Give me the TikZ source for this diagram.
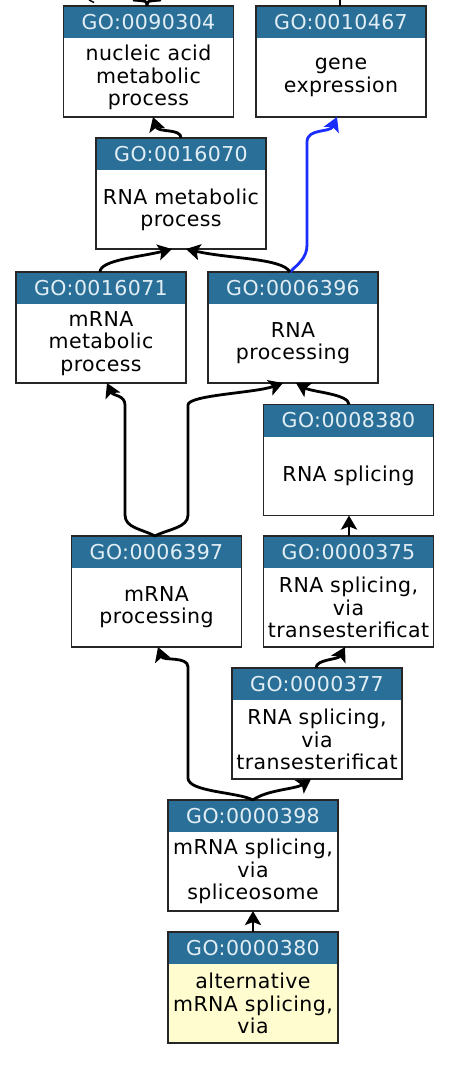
\documentclass[tikz,border=0pt]{standalone}
\usepackage{fontspec}
\setmainfont{DejaVu Sans}
\newfontfamily\gofont[LetterSpace=2]{DejaVu Sans}
\usetikzlibrary{arrows.meta}
\definecolor{hdr}{RGB}{42,111,151}
\definecolor{hdrtxt}{RGB}{226,238,245}
\definecolor{leaf}{RGB}{255,253,208}
\definecolor{isablue}{RGB}{25,45,255}
\tikzset{
  gobox/.style={draw=none, minimum width=170pt, minimum height=111pt, inner sep=0pt, outer sep=0pt},
  boxline/.style={draw=black!85, line width=1.3pt},
  hdrtext/.style={text=hdrtxt, font=\gofont\fontsize{20.5}{22.3}\selectfont, inner sep=0pt},
  bodytext/.style={text=black, font=\gofont\fontsize{20.5}{22.3}\selectfont, align=center, inner sep=0pt},
  edge/.style={line width=2.8pt, draw=black, -{Stealth[length=14pt,width=16pt,inset=3pt]}},
  blueedge/.style={edge, draw=isablue, -{Stealth[length=14pt,width=16pt,inset=3pt,fill=isablue]}},
  tail/.style={line width=2.8pt, draw=black},
}
\newcommand\gonode[6]{%
  \node[gobox, fill=#6] (#1) at (#2,#3) {};
  \fill[hdr] (#1.north west) rectangle ([yshift=-32pt]#1.north east);
  \node[hdrtext] (#1h) at ([yshift=-16pt]#1.north) {#4};
  \node[bodytext] (#1b) at ([yshift=-16pt]#1.center) {#5};
  \draw[boxline] (#1.north west) rectangle (#1.south east);
}
\begin{document}
\begin{tikzpicture}[x=1pt,y=-1pt]
\useasboundingbox (0,0) rectangle (464,1070);
\fill[white] (0,0) rectangle (464,1070);

\gonode{n90304}{148.5}{61.5}{GO:0090304}{nucleic acid\\metabolic\\process}{white}
\gonode{n10467}{341}{61.5}{GO:0010467}{gene\\expression}{white}
\gonode{n16070}{181}{193.5}{GO:0016070}{RNA metabolic\\process}{white}
\gonode{n16071}{101}{327.5}{GO:0016071}{mRNA\\metabolic\\process}{white}
\gonode{n6396}{293}{327.5}{GO:0006396}{RNA\\processing}{white}
\gonode{n8380}{348.5}{460}{GO:0008380}{RNA splicing}{white}
\gonode{n6397}{156.5}{591.5}{GO:0006397}{mRNA\\processing}{white}
\gonode{n375}{348.5}{591.5}{GO:0000375}{RNA splicing,\\via\\transesterificat}{white}
\gonode{n377}{317}{723.5}{GO:0000377}{RNA splicing,\\via\\transesterificat}{white}
\gonode{n398}{253}{855.5}{GO:0000398}{mRNA splicing,\\via\\spliceosome}{white}
\gonode{n380}{253}{987.5}{GO:0000380}{alternative\\mRNA splicing,\\via}{leaf}

% stubs leaving the top edge
\coordinate (topL) at (133,0);
\coordinate (topR) at (161,0);
\coordinate (topG) at (340,0);
\coordinate (stubA) at (89,0);
\coordinate (stubB) at (94,2.5);
\draw[tail] ([xshift=-1.5pt]n90304.north) .. controls (147,1) .. (topL);
\draw[tail] ([xshift=-1.5pt]n90304.north) .. controls (147,1) .. (topR);
\draw[tail] ([xshift=-1pt]n10467.north) -- (topG);
\draw[line width=1.5pt] (stubA) -- (stubB);

% edges
\draw[edge] ([xshift=0pt]n16070.north) .. controls (181,128) and (158,133) .. ([xshift=4.5pt]n90304.south);
\draw[blueedge] ([xshift=-3pt]n6396.north) .. controls (298,264) and (307,258) .. (307,245) -- (307,142) .. controls (307,128) and (330,133) .. ([xshift=-4pt]n10467.south);
\draw[edge] ([xshift=-1pt]n16071.north) .. controls (100,260) and (140,257) .. ([xshift=-9pt]n16070.south);
\draw[edge] ([xshift=-3pt]n6396.north) .. controls (282,258) and (230,259) .. ([xshift=5pt]n16070.south);
\draw[edge] ([xshift=-1.5pt]n6397.north) .. controls (142,529) and (125,528) .. (125,515) -- (125,405) .. controls (125,395) and (113,396) .. ([xshift=6pt]n16071.south);
\draw[edge] ([xshift=-1.5pt]n6397.north) .. controls (168,529) and (188,528) .. (188,515) -- (188,405) .. controls (188,395) and (255,393) .. ([xshift=-10pt]n6396.south);
\draw[edge] ([xshift=0.5pt]n8380.north) .. controls (349,394) and (312,392) .. ([xshift=3pt]n6396.south);
\draw[edge] ([xshift=0.5pt]n375.north) -- ([xshift=0.5pt]n8380.south);
\draw[edge] ([xshift=-1pt]n377.north) .. controls (316,659) and (338,660) .. ([xshift=-3.5pt]n375.south);
\draw[edge] (n398.north) .. controls (238,792) and (188,792) .. (188,778) -- (188,667) .. controls (188,656) and (163,661) .. ([xshift=1.5pt]n6397.south);
\draw[edge] (n398.north) .. controls (266,790) and (296,789) .. ([xshift=-6pt]n377.south);
\draw[edge] (n380.north) -- (n398.south);
\end{tikzpicture}
\end{document}
